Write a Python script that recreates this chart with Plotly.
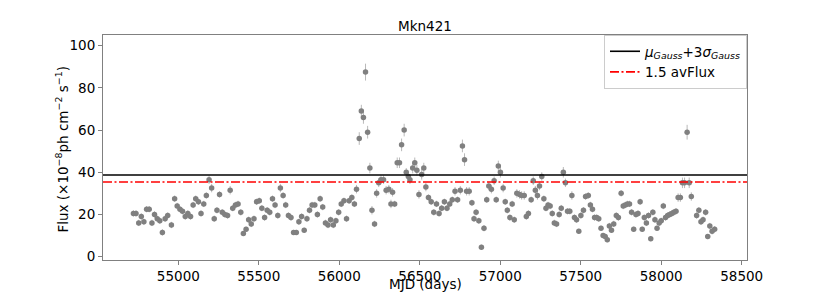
import plotly.graph_objects as go

mjd = [
    54721, 54737, 54754, 54770, 54786, 54803, 54819, 54836, 54852, 54869,
    54885, 54901, 54918, 54934, 54957, 54977, 54993, 55010, 55026, 55043,
    55059, 55076, 55092, 55108, 55125, 55141, 55158, 55174, 55191, 55207,
    55223, 55240, 55256, 55273, 55289, 55306, 55322, 55338, 55355, 55371,
    55388, 55404, 55421, 55437, 55453, 55470, 55486, 55503, 55519, 55536,
    55552, 55568, 55585, 55601, 55618, 55634, 55651, 55667, 55684, 55700,
    55716, 55733, 55749, 55766, 55782, 55799, 55815, 55831, 55848, 55864,
    55881, 55897, 55914, 55930, 55946, 55963, 55979, 55996, 56012, 56029,
    56045, 56061, 56078, 56094, 56107, 56124, 56137, 56150, 56163, 56176,
    56190, 56203, 56219, 56232, 56245, 56259, 56275, 56291, 56308, 56321,
    56331, 56344, 56360, 56374, 56387, 56403, 56416, 56429, 56439, 56456,
    56469, 56482, 56495, 56512, 56525, 56538, 56554, 56571, 56587, 56604,
    56620, 56636, 56653, 56669, 56686, 56702, 56719, 56735, 56752, 56765,
    56778, 56791, 56807, 56824, 56837, 56850, 56867, 56883, 56899, 56916,
    56929, 56945, 56962, 56975, 56988, 57001, 57018, 57031, 57044, 57060,
    57074, 57087, 57103, 57120, 57133, 57149, 57162, 57175, 57192, 57205,
    57218, 57231, 57244, 57258, 57271, 57284, 57297, 57310, 57323, 57336,
    57350, 57366, 57379, 57392, 57405, 57418, 57432, 57445, 57461, 57474,
    57488, 57501, 57517, 57530, 57547, 57560, 57573, 57586, 57599, 57612,
    57626, 57639, 57652, 57665, 57678, 57691, 57705, 57721, 57734, 57751,
    57764, 57777, 57790, 57803, 57816, 57829, 57843, 57856, 57869, 57882,
    57895, 57908, 57921, 57935, 57948, 57961, 57974, 57987, 58000, 58013,
    58027, 58040, 58053, 58066, 58079, 58092, 58105, 58119, 58132, 58145,
    58161, 58174, 58187, 58220, 58234, 58247, 58260, 58276, 58289, 58302,
    58316, 58332,
]

flux = [
    20.5, 20.5, 16, 19, 16.5, 22.5, 22.5, 16, 20, 18,
    17, 11.5, 18, 19.5, 15, 27.5, 24, 22.5, 21.5, 19,
    20.5, 19, 24.5, 27.5, 26, 20.5, 25, 29, 36.5, 32.5,
    18, 22, 29.5, 21, 20, 19.5, 31.5, 23, 24.5, 25,
    21, 11, 13, 17.5, 15.5, 18, 26, 26.5, 23, 18.5,
    22, 21, 27.5, 24.5, 19.5, 32.5, 29, 24.5, 19.5, 18.5,
    11.5, 11.5, 16.5, 19, 12.5, 18, 22, 24.5, 24.5, 20,
    27.5, 23.5, 16, 15, 17.5, 15, 17, 21, 25, 26.5,
    18, 26.5, 28, 25, 32, 56, 69, 66, 87.5, 59,
    42, 22, 15.5, 30, 35, 36.5, 36.5, 31.5, 32, 25,
    30.5, 25, 44.5, 44.5, 53, 60, 40, 38, 36.5, 42,
    44.5, 41, 29.5, 39, 42, 33, 28, 26, 21, 25,
    20.5, 23, 26, 23, 25, 27, 31, 27, 31.5, 52.5,
    46, 31, 31, 25.5, 18, 21, 17, 4.5, 13.5, 27,
    33.5, 32, 36, 27, 43, 40, 32.5, 26, 22, 18.5,
    25, 17.5, 30, 29.5, 29, 29, 19, 20.5, 27, 36,
    31.5, 29, 33.5, 38, 27.5, 23, 24.5, 24, 20.5, 16,
    15.5, 20, 23, 40, 35, 21.5, 21.5, 29, 18.5, 17.5,
    12, 19.5, 22, 28.5, 29, 24.5, 22.5, 18.5, 18.5, 18,
    13.5, 10, 9.5, 8, 14.5, 12.5, 15.5, 19.5, 18.5, 30,
    24, 24.5, 25, 25, 21, 13, 20, 20.5, 26, 13,
    18.5, 16, 19.5, 8.5, 21, 17.5, 13.5, 16, 17, 24,
    18.5, 19.5, 20, 20.5, 21, 21.5, 28, 28, 35, 35,
    59, 35, 28.5, 19.5, 22, 16.5, 17.5, 21, 9.5, 14.5,
    12, 13,
]

flux_err = [
    1.5, 1.5, 1.5, 1.5, 1.5, 1.5, 1.5, 1.5, 1.5, 1.5,
    1.5, 1.5, 1.5, 1.5, 1.5, 1.5, 1.5, 1.5, 1.5, 1.5,
    1.5, 1.5, 1.5, 1.5, 1.5, 1.5, 1.5, 1.5, 2, 2,
    1.5, 1.5, 1.5, 1.5, 1.5, 1.5, 2, 1.5, 1.5, 1.5,
    1.5, 1.2, 1.2, 1.5, 1.5, 1.5, 1.5, 1.5, 1.5, 1.5,
    1.5, 1.5, 1.5, 1.5, 1.5, 2, 1.5, 1.5, 1.5, 1.5,
    1.2, 1.2, 1.5, 1.5, 1.2, 1.5, 1.5, 1.5, 1.5, 1.5,
    1.5, 1.5, 1.5, 1.5, 1.5, 1.5, 1.5, 1.5, 1.5, 1.5,
    1.5, 1.5, 1.5, 1.5, 2, 3, 3, 3, 4, 3,
    2.5, 2, 1.5, 2, 2, 2, 2, 2, 2, 2,
    2, 1.5, 2.5, 2.5, 3, 3, 2, 2, 2, 2.5,
    2.5, 2.5, 2, 2.5, 2.5, 2, 1.5, 1.5, 1.5, 1.5,
    1.5, 1.5, 1.5, 1.5, 1.5, 1.5, 2, 1.5, 2, 3,
    3, 2, 2, 1.5, 1.5, 1.5, 1.5, 1.2, 1.5, 1.5,
    2, 2, 2, 1.5, 2.5, 2.5, 2, 1.5, 1.5, 1.5,
    1.5, 1.5, 2, 2, 2, 2, 1.5, 1.5, 1.5, 2,
    2, 2, 2, 2, 1.5, 1.5, 1.5, 1.5, 1.5, 1.5,
    1.5, 1.5, 1.5, 2.5, 2, 1.5, 1.5, 2, 1.5, 1.5,
    1.2, 1.5, 1.5, 1.5, 1.5, 1.5, 1.5, 1.5, 1.5, 1.5,
    1.2, 1.2, 1.2, 1.2, 1.5, 1.2, 1.5, 1.5, 1.5, 1.5,
    1.5, 1.5, 1.5, 1.5, 1.5, 1.2, 1.5, 1.5, 1.5, 1.2,
    1.5, 1.5, 1.5, 1.2, 1.5, 1.5, 1.2, 1.5, 1.5, 1.5,
    1.5, 1.5, 1.5, 1.5, 1.5, 1.5, 2, 2, 2.5, 2.5,
    3.5, 2.5, 2, 1.5, 1.5, 1.5, 1.5, 1.5, 1.2, 1.5,
    1.5, 1.5,
]

gauss_threshold = 38.7   # mu_Gauss + 3 sigma_Gauss
avflux_threshold = 35.4  # 1.5 * average flux

x_ticks = [55000, 55500, 56000, 56500, 57000, 57500, 58000, 58500]
x_tick_labels = ["55000", "55500", "56000", "56500", "57000", "57500", "58000", "58500"]
y_ticks = [0, 20, 40, 60, 80, 100]
y_tick_labels = ["0", "20", "40", "60", "80", "100"]

FONT = "DejaVu Sans"
FS = 13.5
DASHDOT = "9px,2.5px,2px,2.5px"

# The page body has an 8px default margin, so the figure is sized to fit
# inside the 830x293 window once offset.
W, H = 822, 285

fig = go.Figure()

fig.add_trace(go.Scatter(
    x=mjd, y=flux, mode="markers", showlegend=False,
    marker=dict(color="#808080", size=5.5, line=dict(width=0)),
    error_y=dict(type="data", array=flux_err, color="rgba(128,128,128,0.55)",
                 thickness=1, width=0),
))

# legend entries
fig.add_trace(go.Scatter(
    x=[None], y=[None], mode="lines",
    line=dict(color="black", width=1.6),
    name="<i>μ</i><sub><i>Gauss</i></sub>+3<i>σ</i><sub><i>Gauss</i></sub>",
))
fig.add_trace(go.Scatter(
    x=[None], y=[None], mode="lines",
    line=dict(color="red", width=1.6, dash=DASHDOT),
    name="1.5 avFlux",
))

fig.add_shape(type="line", xref="x domain", yref="y", x0=0, x1=1,
              y0=gauss_threshold, y1=gauss_threshold,
              line=dict(color="black", width=1.6))
fig.add_shape(type="line", xref="x domain", yref="y", x0=0, x1=1,
              y0=avflux_threshold, y1=avflux_threshold,
              line=dict(color="red", width=1.6, dash=DASHDOT))

axis_common = dict(
    showline=True, linecolor="#808080", linewidth=1, mirror=True,
    ticks="outside", ticklen=4, tickcolor="#808080", tickwidth=1,
    showgrid=False, zeroline=False, automargin=False,
    tickfont=dict(family=FONT, size=FS, color="black"),
)

fig.update_layout(
    width=W, height=H,
    margin=dict(l=95, r=83, t=27, b=33),
    paper_bgcolor="white", plot_bgcolor="white",
    font=dict(family=FONT, size=FS, color="black"),
    title=dict(text="Mkn421", x=0.5, xref="paper", y=1 - 18 / H,
               yref="container", yanchor="middle", xanchor="center",
               font=dict(family=FONT, size=FS, color="black")),
    xaxis=dict(range=[54532, 58533], tickvals=x_ticks, ticktext=x_tick_labels,
               **axis_common),
    yaxis=dict(range=[-1.6, 105.1], tickvals=y_ticks, ticktext=y_tick_labels,
               **axis_common),
    legend=dict(x=1, y=1, xanchor="right", yanchor="top",
                bgcolor="rgba(255,255,255,0.85)", bordercolor="#cccccc",
                borderwidth=1, font=dict(family=FONT, size=FS),
                tracegroupgap=0, itemwidth=30),
    annotations=[
        dict(text="MJD (days)", xref="paper", yref="paper", x=0.5, y=-0.108,
             xanchor="center", yanchor="middle", showarrow=False,
             font=dict(family=FONT, size=FS, color="black")),
        dict(text="Flux (×10<sup>−8</sup>ph cm<sup>−2</sup> s<sup>−1</sup>)",
             xref="paper", yref="paper", x=-0.064, y=0.49, textangle=-90,
             xanchor="center", yanchor="middle", showarrow=False,
             font=dict(family=FONT, size=FS, color="black")),
    ],
)

fig.write_html("out.html")
